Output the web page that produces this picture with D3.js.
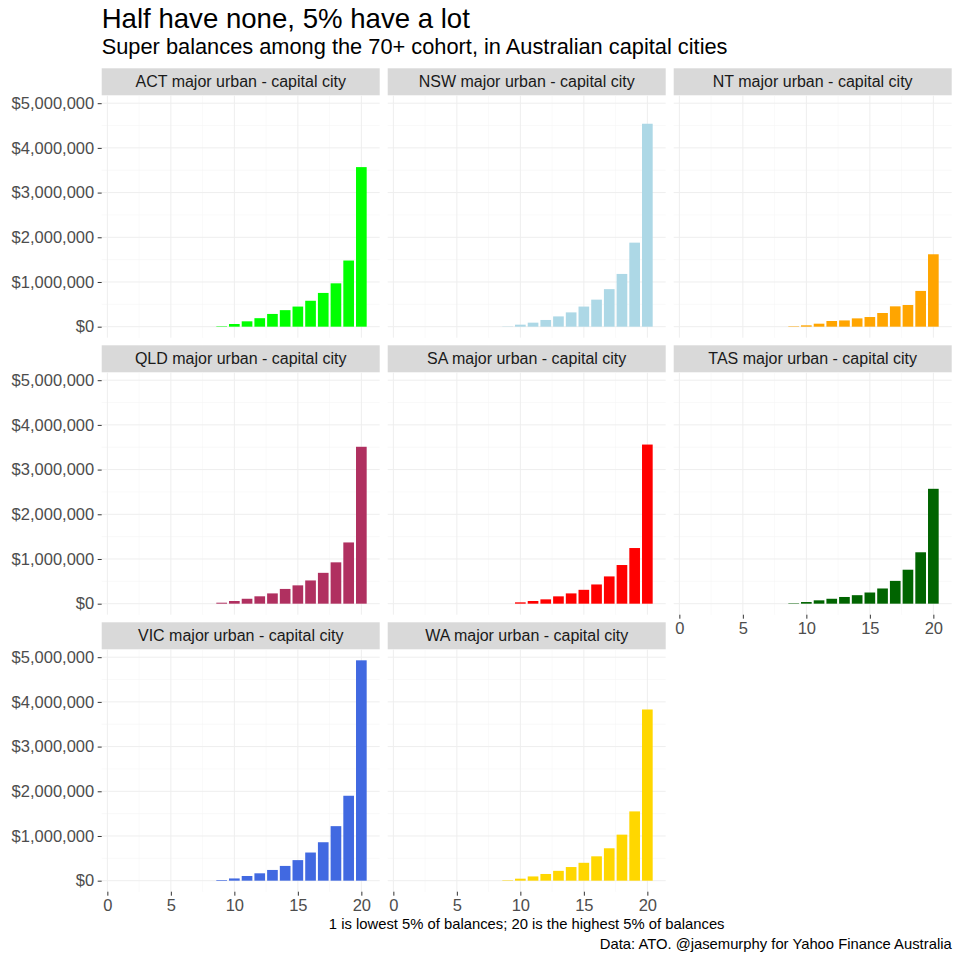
<!DOCTYPE html>
<html>
<head>
<meta charset="utf-8">
<script src="https://cdn.jsdelivr.net/npm/d3@7/dist/d3.min.js"></script>
<style>
    body { margin: 0; background: #fff; }
    svg text { font-family: "Liberation Sans", Arial, Helvetica, sans-serif; }
</style>
</head>
<body>
<div id="chart"></div>
<script>
// percentile groups: 1 = lowest 5% of balances, 20 = highest 5%
const groups = [1, 2, 3, 4, 5, 6, 7, 8, 9, 10, 11, 12, 13, 14, 15, 16, 17, 18, 19, 20];

const cities = [
    "ACT major urban - capital city",
    "NSW major urban - capital city",
    "NT major urban - capital city",
    "QLD major urban - capital city",
    "SA major urban - capital city",
    "TAS major urban - capital city",
    "VIC major urban - capital city",
    "WA major urban - capital city"
];
const cityColors = ["#00ff00", "#add8e6", "#ffa500", "#b03060", "#ff0000", "#006400", "#4169e1", "#ffd700"];

// average super balance per group ($)
const act = [0, 0, 0, 0, 0, 0, 0, 0, 10000, 60000, 120000, 190000, 285000, 370000, 450000, 580000, 755000, 970000, 1480000, 3570000];
const nsw = [0, 0, 0, 0, 0, 0, 0, 0, 6000, 45000, 90000, 150000, 230000, 320000, 450000, 605000, 840000, 1180000, 1880000, 4540000];
const nt  = [0, 0, 0, 0, 0, 0, 0, 0, 10000, 30000, 67000, 127000, 140000, 186000, 216000, 306000, 455000, 485000, 800000, 1620000];
const qld = [0, 0, 0, 0, 0, 0, 0, 0, 22000, 60000, 110000, 165000, 230000, 330000, 410000, 520000, 690000, 925000, 1370000, 3510000];
const sa  = [0, 0, 0, 0, 0, 0, 0, 0, 0, 30000, 60000, 97000, 164000, 230000, 310000, 430000, 610000, 865000, 1245000, 3560000];
const tas = [0, 0, 0, 0, 0, 0, 0, 0, 10000, 37000, 75000, 110000, 150000, 190000, 250000, 340000, 510000, 760000, 1150000, 2570000];
const vic = [0, 0, 0, 0, 0, 0, 0, 0, 15000, 50000, 105000, 165000, 240000, 330000, 460000, 630000, 860000, 1220000, 1900000, 4930000];
const wa  = [0, 0, 0, 0, 0, 0, 0, 0, 10000, 45000, 95000, 150000, 220000, 305000, 400000, 545000, 725000, 1030000, 1550000, 3830000];
const seriesValues = [act, nsw, nt, qld, sa, tas, vic, wa];

const xTicks = [0, 5, 10, 15, 20];
const xMinor = [2.5, 7.5, 12.5, 17.5];
const yTicks = [0, 1000000, 2000000, 3000000, 4000000, 5000000];
const yMinor = [500000, 1500000, 2500000, 3500000, 4500000];

const title = "Half have none, 5% have a lot";
const subtitle = "Super balances among the 70+ cohort, in Australian capital cities";
const xTitle = "1 is lowest 5% of balances; 20 is the highest 5% of balances";
const caption = "Data: ATO. @jasemurphy for Yahoo Finance Australia";

class FacetBars {
    constructor(option) {
        for (let [key, value] of Object.entries(option)) {
            this[key] = value;
        }
        this.left = 101.7;
        this.top = 68.3;
        this.panelW = 278;
        this.panelH = 242.4;
        this.gapX = 8;
        this.stripH = 27;
        this.rowStep = 277;
        this.ncol = 3;
        this.creatSvg();
        this.creatScales();
        this.creatPanels();
        this.creatTexts();
    }
    creatSvg() {
        this.svg = d3.select(this.ele)
            .append("svg")
            .attr("width", this.width)
            .attr("height", this.height);
    }
    creatScales() {
        // ggplot style: bars 0.55..20.45 expanded by 5%
        let lo = groups[0] - 0.45, hi = groups[groups.length - 1] + 0.45;
        let pad = (hi - lo) * 0.05;
        this.x = d3.scaleLinear().domain([lo - pad, hi + pad]).range([0, this.panelW]);
        let maxV = d3.max(this.series, s => d3.max(s.values));
        this.y = d3.scaleLinear().domain([-maxV * 0.05, maxV * 1.05]).range([this.panelH, 0]);
    }
    creatPanels() {
        const x = this.x, y = this.y, n = this.series.length;
        const self = this;

        this.series.forEach(function (s, i) {
            let col = i % self.ncol, row = Math.floor(i / self.ncol);
            let px = self.left + col * (self.panelW + self.gapX);
            let sy = self.top + row * self.rowStep;
            let py = sy + self.stripH;

            // strip
            self.svg.append("rect")
                .attr("x", px).attr("y", sy)
                .attr("width", self.panelW).attr("height", self.stripH)
                .attr("fill", "#d9d9d9");
            self.svg.append("text")
                .attr("x", px + self.panelW / 2)
                .attr("y", sy + self.stripH / 2)
                .attr("dy", "0.35em")
                .attr("text-anchor", "middle")
                .attr("font-size", 16)
                .attr("fill", "#1a1a1a")
                .text(s.name);

            let g = self.svg.append("g").attr("transform", `translate(${px},${py})`);

            // grid
            g.selectAll(".xminor").data(xMinor).enter().append("line")
                .attr("x1", d => x(d)).attr("x2", d => x(d))
                .attr("y1", 0).attr("y2", self.panelH)
                .attr("stroke", "#f5f5f5").attr("stroke-width", 0.6);
            g.selectAll(".yminor").data(yMinor).enter().append("line")
                .attr("y1", d => y(d)).attr("y2", d => y(d))
                .attr("x1", 0).attr("x2", self.panelW)
                .attr("stroke", "#f5f5f5").attr("stroke-width", 0.6);
            g.selectAll(".xmajor").data(xTicks).enter().append("line")
                .attr("x1", d => x(d)).attr("x2", d => x(d))
                .attr("y1", 0).attr("y2", self.panelH)
                .attr("stroke", "#eeeeee").attr("stroke-width", 1);
            g.selectAll(".ymajor").data(yTicks).enter().append("line")
                .attr("y1", d => y(d)).attr("y2", d => y(d))
                .attr("x1", 0).attr("x2", self.panelW)
                .attr("stroke", "#eeeeee").attr("stroke-width", 1);

            // bars
            g.selectAll("rect.bar")
                .data(groups.map((gr, k) => ({ g: gr, v: s.values[k] })))
                .enter().append("rect")
                .attr("class", "bar")
                .attr("x", d => x(d.g - 0.42))
                .attr("width", x(0.84) - x(0))
                .attr("y", d => y(Math.max(d.v, 0)))
                .attr("height", d => y(0) - y(Math.max(d.v, 0)))
                .attr("fill", s.color);

            // y axis on first column
            if (col === 0) {
                let ya = g.append("g")
                    .call(d3.axisLeft(y).tickValues(yTicks)
                        .tickFormat(d => "$" + d3.format(",")(d))
                        .tickSize(4).tickPadding(3.5));
                ya.select(".domain").remove();
                ya.selectAll("line").attr("stroke", "#333333");
                ya.selectAll("text").attr("font-size", 16.5).attr("fill", "#4d4d4d")
                    .style("font-family", '"Liberation Sans", Arial, sans-serif');
            }
            // x axis where no panel below
            if (i + self.ncol >= n) {
                let xa = g.append("g")
                    .attr("transform", `translate(0,${self.panelH})`)
                    .call(d3.axisBottom(x).tickValues(xTicks).tickSize(4).tickPadding(3.5));
                xa.select(".domain").remove();
                xa.selectAll("line").attr("stroke", "#333333");
                xa.selectAll("text").attr("font-size", 16.5).attr("fill", "#4d4d4d")
                    .style("font-family", '"Liberation Sans", Arial, sans-serif');
            }
        });
    }
    creatTexts() {
        let right = this.left + this.ncol * this.panelW + (this.ncol - 1) * this.gapX;
        this.svg.append("text")
            .attr("x", this.left).attr("y", 27.7)
            .attr("font-size", 27.6).attr("fill", "#000")
            .text(title);
        this.svg.append("text")
            .attr("x", this.left).attr("y", 54)
            .attr("font-size", 21.8).attr("fill", "#000")
            .text(subtitle);
        this.svg.append("text")
            .attr("x", (this.left + right) / 2).attr("y", 929)
            .attr("text-anchor", "middle")
            .attr("font-size", 14.8).attr("fill", "#000")
            .text(xTitle);
        this.svg.append("text")
            .attr("x", right).attr("y", 949)
            .attr("text-anchor", "end")
            .attr("font-size", 14.8).attr("fill", "#000")
            .text(caption);
    }
}

let chart = new FacetBars({
    ele: document.getElementById("chart"),
    width: 960,
    height: 960,
    series: cities.map((c, i) => ({ name: c, color: cityColors[i], values: seriesValues[i] }))
});
</script>
</body>
</html>
